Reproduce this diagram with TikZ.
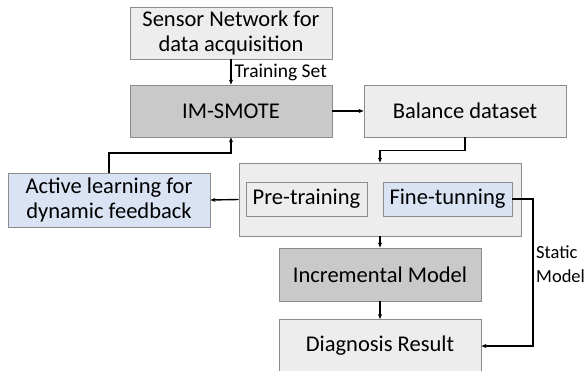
\documentclass[tikz,border=0pt]{standalone}
\usepackage{fontspec}
\setmainfont{Carlito}
\usetikzlibrary{arrows.meta}

\definecolor{boxgray}{HTML}{EDEDED}
\definecolor{darkgray}{HTML}{C9C9C9}
\definecolor{paleblue}{HTML}{DAE3F3}
\definecolor{edgegray}{HTML}{8C8C8C}

\tikzset{
    block/.style={draw=edgegray, line width=0.8pt, fill=boxgray, align=center,
        inner sep=0pt, font=\fontsize{22.5}{25}\selectfont},
    arr/.style={-{Stealth[length=5pt,width=4pt]}, line width=1.4pt},
    small/.style={font=\fontsize{19.5}{24}\selectfont, inner sep=0pt}
}

\begin{document}
\begin{tikzpicture}[x=1pt,y=-1pt]
        \useasboundingbox (0,0) rectangle (587,371);

        % upper row
        \node[block, minimum width=202pt, minimum height=52pt] (sensor) at (231,33) {Sensor Network for\\data acquisition};
        \node[block, fill=darkgray, minimum width=202pt, minimum height=52pt] (smote) at (231,111) {IM-SMOTE};
        \node[block, minimum width=202pt, minimum height=52pt] (balance) at (465,111) {Balance dataset};

        % training stage
        \node[block, minimum width=282pt, minimum height=73pt] (train) at (380,199.5) {};
        \node[block, minimum width=121pt, minimum height=34pt] (pre) at (306.5,199) {Pre-training};
        \node[block, fill=paleblue, minimum width=129pt, minimum height=34pt] (fine) at (447.5,199) {Fine-tunning};
        \node[block, fill=paleblue, minimum width=202pt, minimum height=54pt] (active) at (109,200) {Active learning for\\dynamic feedback};

        % lower column
        \node[block, fill=darkgray, minimum width=202pt, minimum height=53pt] (incr) at (380,274.5) {Incremental Model};
        \node[block, minimum width=202pt, minimum height=53pt] (diag) at (380,346) {Diagnosis Result};

        % connectors
        \draw[arr] (sensor) -- (smote) node[small, pos=0.5, right=3pt] (tset) {Training Set};
        \draw[arr] (smote) -- (balance);
        \draw[arr] (balance.south) -- ++(0,13) -| (train.north);
        \draw[arr] (train.west) -- (active.east);
        \draw[arr] (active.north) |- (231,153) -- (smote.south);
        \draw[arr] (train.south) -- (incr.north);
        \draw[arr] (incr) -- (diag);
        \draw[arr] (fine.east) -- (533,199) |- (diag.east);
        \node[small, font=\fontsize{18.5}{24}\selectfont, align=left, anchor=west] (static) at (536,264) {Static\\Model};
    \end{tikzpicture}
\end{document}
